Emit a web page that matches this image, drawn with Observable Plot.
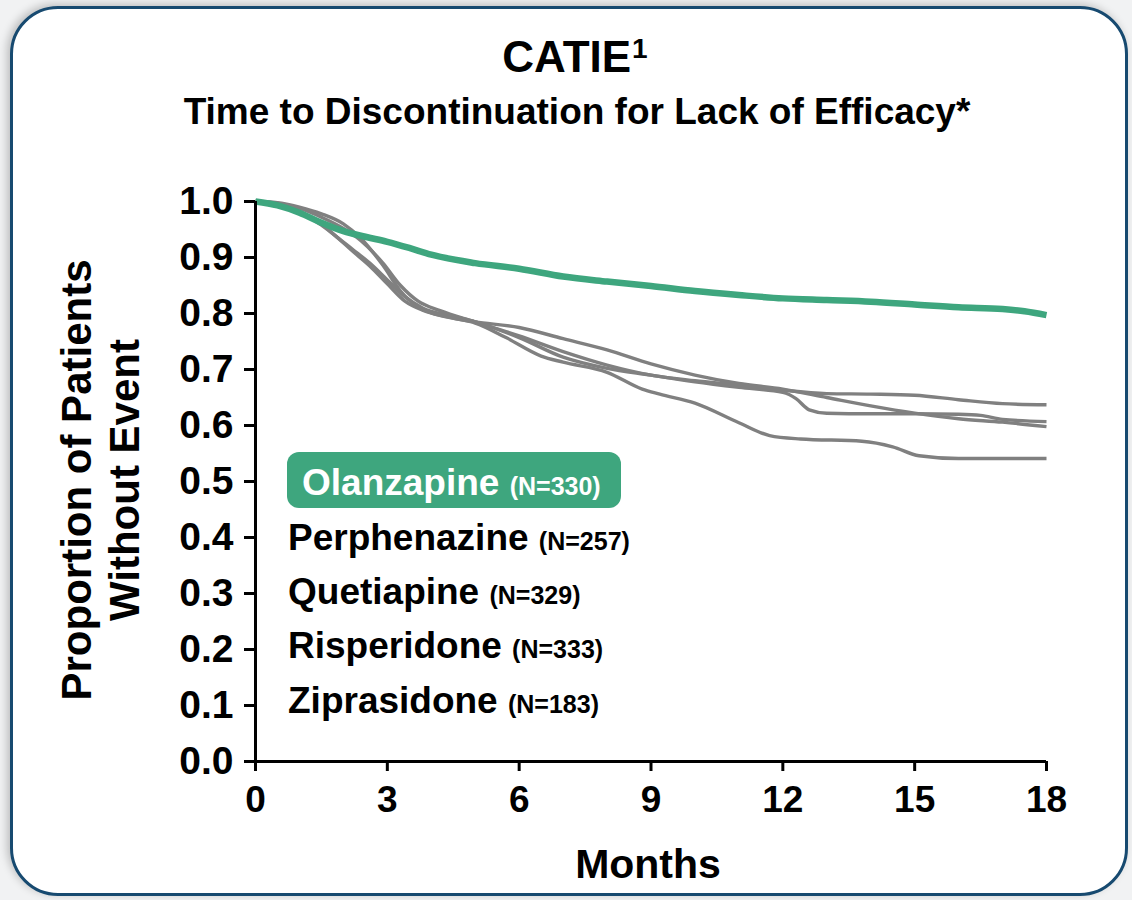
<!DOCTYPE html>
<html><head><meta charset="utf-8">
<script src="https://cdn.jsdelivr.net/npm/d3@7"></script>
<script src="https://cdn.jsdelivr.net/npm/@observablehq/plot@0.6"></script>
<style>
html,body{margin:0;padding:0;background:#f1f2f3;width:1132px;height:900px;overflow:hidden;font-family:"Liberation Sans",Arial,sans-serif;}
#card{position:absolute;left:10px;top:6px;width:1118px;height:890px;box-sizing:border-box;border:3px solid #174a70;border-radius:48px;background:#fff;box-shadow:-3px -2px 9px rgba(0,0,0,0.22);}
.t{position:absolute;font-weight:bold;color:#000;white-space:nowrap;line-height:1;}
#chart{position:absolute;left:0;top:160px;}
</style></head><body>
<div id="card"></div>
<div class="t" style="left:275px;width:600px;text-align:center;top:35px;font-size:44px;">CATIE<span style="font-size:28px;position:relative;top:-14px;margin-left:1px;">1</span></div>
<div class="t" style="left:177px;width:800px;text-align:center;top:93px;font-size:37px;">Time to Discontinuation for Lack of Efficacy*</div>
<div class="t" style="left:-149px;top:432px;width:500px;height:96px;font-size:42px;line-height:48px;text-align:center;transform:rotate(-90deg);transform-origin:50% 50%;">Proportion of Patients<br>Without Event</div>
<div class="t" style="left:448px;width:400px;text-align:center;top:844px;font-size:41px;">Months</div>
<div id="chart"></div>
<div id="legend"></div>
<script>
// ---- Data ----
const yTicks = [0.0, 0.1, 0.2, 0.3, 0.4, 0.5, 0.6, 0.7, 0.8, 0.9, 1.0];
const xTicks = [0, 3, 6, 9, 12, 15, 18];

const drugs = ["Olanzapine", "Perphenazine", "Quetiapine", "Risperidone", "Ziprasidone"];
const sampleSizes = [330, 257, 329, 333, 183];

const olanzapineMonths = [0, 0.5, 1, 1.5, 2, 2.5, 3, 3.5, 4, 5, 6, 7, 8, 9, 10, 11, 12, 13, 14, 15, 16, 17, 17.5, 18];
const olanzapineValues = [1.0, 0.993, 0.98, 0.962, 0.947, 0.937, 0.928, 0.917, 0.905, 0.89, 0.88, 0.866, 0.857, 0.849, 0.84, 0.833, 0.827, 0.824, 0.821, 0.816, 0.811, 0.808, 0.804, 0.797];

const perphenazineMonths = [0, 0.5, 1, 1.5, 1.8, 2.2, 2.6, 3, 3.4, 3.8, 4.5, 5, 6, 7, 8, 9, 10, 11, 12, 12.3, 12.6, 13, 14, 15, 16, 16.5, 17, 18];
const perphenazineValues = [1.0, 0.996, 0.982, 0.96, 0.94, 0.915, 0.89, 0.86, 0.83, 0.81, 0.795, 0.785, 0.757, 0.722, 0.702, 0.69, 0.678, 0.668, 0.659, 0.648, 0.628, 0.622, 0.621, 0.621, 0.62, 0.618, 0.611, 0.607];

const quetiapineMonths = [0, 0.5, 1, 1.5, 1.8, 2.2, 2.6, 3, 3.4, 3.8, 4.5, 5, 5.7, 6.5, 7, 8, 8.8, 9.2, 10, 11, 11.7, 12.4, 13.8, 14.5, 15.1, 16, 17, 18];
const quetiapineValues = [1.0, 0.996, 0.981, 0.958, 0.94, 0.912, 0.885, 0.853, 0.822, 0.806, 0.792, 0.783, 0.757, 0.724, 0.713, 0.695, 0.665, 0.656, 0.64, 0.605, 0.582, 0.576, 0.572, 0.562, 0.546, 0.541, 0.541, 0.541];

const risperidoneMonths = [0, 0.5, 1, 1.5, 2, 2.4, 2.9, 3.3, 3.7, 4.2, 5, 6, 7, 8, 9, 10, 11, 12, 13, 14, 15, 16, 17, 18];
const risperidoneValues = [1.0, 0.997, 0.988, 0.972, 0.952, 0.93, 0.89, 0.85, 0.822, 0.805, 0.785, 0.76, 0.732, 0.708, 0.69, 0.68, 0.672, 0.663, 0.657, 0.656, 0.654, 0.646, 0.639, 0.637];

const ziprasidoneMonths = [0, 0.5, 1, 1.5, 2, 2.4, 2.9, 3.3, 3.7, 4.6, 5, 6, 7, 8, 9, 10, 11, 12, 13, 14, 15, 16, 17, 18];
const ziprasidoneValues = [1.0, 0.998, 0.99, 0.978, 0.96, 0.934, 0.886, 0.84, 0.812, 0.79, 0.785, 0.775, 0.755, 0.735, 0.71, 0.69, 0.675, 0.665, 0.65, 0.635, 0.622, 0.612, 0.606, 0.598];

const GREEN = "#3ea67e";
const GRAY = "#808080";

function rows(drug, months, values) {
  return months.map((m, i) => ({drug, month: m, value: values[i]}));
}
const olanRows = rows("Olanzapine", olanzapineMonths, olanzapineValues);
const grayRows = [
  ...rows("Perphenazine", perphenazineMonths, perphenazineValues),
  ...rows("Quetiapine", quetiapineMonths, quetiapineValues),
  ...rows("Risperidone", risperidoneMonths, risperidoneValues),
  ...rows("Ziprasidone", ziprasidoneMonths, ziprasidoneValues)
];

const chart = Plot.plot({
  width: 1132,
  height: 680,
  marginLeft: 255,
  marginRight: 86,
  marginTop: 41,
  marginBottom: 79,
  style: {background: "transparent", fontFamily: "'Liberation Sans', Arial, sans-serif", fontWeight: "bold", fontSize: "36px", color: "#000"},
  x: {domain: [0, 18]},
  y: {domain: [0, 1]},
  marks: [
    Plot.axisY({ticks: yTicks, tickFormat: d => d.toFixed(1), tickSize: 11, tickPadding: 11, strokeWidth: 3, fontSize: 39, label: null}),
    Plot.axisX({ticks: xTicks, tickFormat: d => String(d), tickSize: 10, tickPadding: 14, strokeWidth: 3, fontSize: 37, label: null}),
    Plot.line(grayRows, {x: "month", y: "value", z: "drug", stroke: GRAY, strokeWidth: 3.4, curve: "monotone-x", strokeLinecap: "butt"}),
    Plot.line(olanRows, {x: "month", y: "value", stroke: GREEN, strokeWidth: 6.5, curve: "monotone-x", strokeLinecap: "butt"}),
    Plot.ruleX([0], {strokeWidth: 3, stroke: "#000"}),
    Plot.ruleY([0], {strokeWidth: 3, stroke: "#000"})
  ]
});
document.getElementById("chart").appendChild(chart);

// Legend (HTML text)
const legend = document.getElementById("legend");
const baselines = [495, 550, 604, 658, 713];
drugs.forEach((d, i) => {
  const div = document.createElement("div");
  div.className = "t";
  div.style.fontSize = "37px";
  div.style.top = (baselines[i] - 31.3) + "px";
  if (i === 0) {
    const box = document.createElement("div");
    box.style.cssText = `position:absolute;left:287px;top:452px;width:334px;height:56px;border-radius:12px;background:${GREEN};`;
    legend.appendChild(box);
    div.style.left = "302px";
    div.style.color = "#fff";
  } else {
    div.style.left = "288px";
  }
  div.innerHTML = `${d} <span style="font-size:25px">(N=${sampleSizes[i]})</span>`;
  legend.appendChild(div);
});
</script>
</body></html>
